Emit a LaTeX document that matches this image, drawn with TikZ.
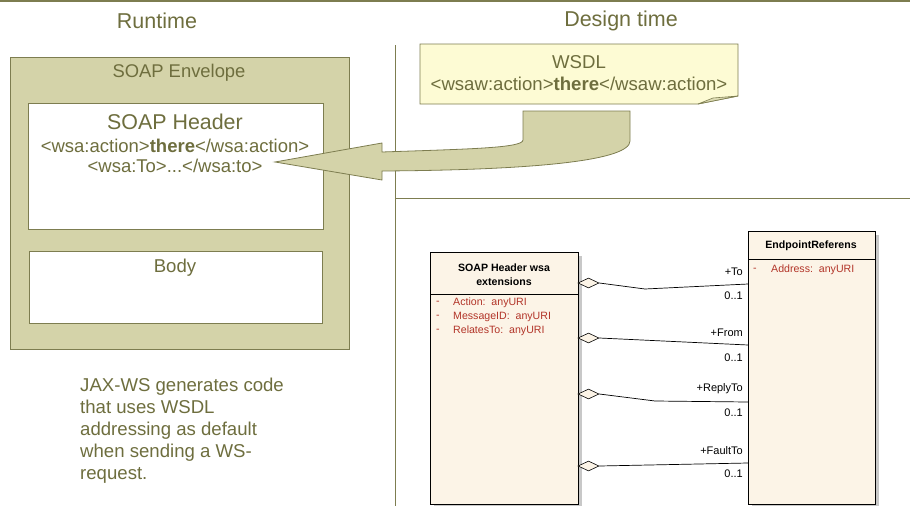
\documentclass[tikz,border=0pt]{standalone}
\usepackage{fontspec}
\setmainfont{Liberation Sans}
\usetikzlibrary{shapes.geometric}
\definecolor{oliveT}{RGB}{110,110,62}
\definecolor{oliveL}{RGB}{125,125,80}
\definecolor{envfill}{RGB}{212,211,169}
\definecolor{notefill}{RGB}{253,251,212}
\definecolor{foldfill}{RGB}{222,220,180}
\definecolor{umlfill}{RGB}{252,244,231}
\definecolor{attrred}{RGB}{178,52,40}
\definecolor{shadowg}{RGB}{200,200,200}
\newcommand{\fsz}[2]{\fontsize{#1}{#2}\selectfont}
\tikzset{
  ttl/.style={text=oliveT, font=\fsz{21.5}{24}},
  box/.style={draw=oliveL, line width=0.8, anchor=north west, inner sep=0},
  txt/.style={text=oliveT, inner sep=0},
  umlbox/.style={draw=black, line width=0.7, fill=umlfill, anchor=north west, inner sep=0},
  umltitle/.style={font=\bfseries\fsz{10.6}{14}, align=center, inner sep=0},
  attr/.style={text=attrred, font=\fsz{10.6}{12}, anchor=west, inner sep=0},
  role/.style={font=\fsz{11}{12}, anchor=east, inner sep=0},
  agg/.style={draw=black, line width=0.6, fill=umlfill, shape=diamond, aspect=2, minimum width=21, minimum height=10, inner sep=0},
  conn/.style={draw=black, line width=0.7},
}
\begin{document}
\begin{tikzpicture}[x=1pt,y=-1pt]
\useasboundingbox (0,0) rectangle (910,506);
\draw[oliveL, line width=1.2] (0,1) -- (910,1);
\node[ttl] (rt) at (157,21) {Runtime};
\node[ttl] (dt) at (621,21) {Design time};
\draw[oliveL, line width=0.8] (395,45) -- (395,506);
\draw[oliveL, line width=0.8] (395,198) -- (910,198);

% SOAP envelope
\node[box, fill=envfill, minimum width=339, minimum height=292] (env) at (10,57) {};
\node[txt, font=\fsz{18.4}{20}] (envt) at (179,73) {SOAP Envelope};
\node[box, fill=white, minimum width=295, minimum height=126] (hdr) at (28,103) {};
\node[txt, font=\fsz{21.4}{24}] (hdrt) at (175,122) {SOAP Header};
\node[txt, font=\fsz{18.5}{20}] (hdr1) at (175,146) {<wsa:action>\textbf{there}</wsa:action>};
\node[txt, font=\fsz{18.5}{20}] (hdr2) at (175,166) {<wsa:To>...</wsa:to>};
\node[box, fill=white, minimum width=293, minimum height=72] (body) at (29,251) {};
\node[txt, font=\fsz{18.6}{20}] (bodyt) at (175,268) {Body};

\node[txt, font=\fsz{18.6}{22}, align=left, anchor=north west] (jax) at (80,378)
  {JAX-WS generates code\\that uses WSDL\\addressing as default\\when sending a WS-\\request.};

% WSDL note
\path[draw=oliveL, line width=0.8, fill=notefill] (420,44) -- (738,44) -- (738,96) -- (698,104) -- (420,104) -- cycle;
\path[draw=oliveL, line width=0.6, fill=foldfill] (698,104) -- (713,98) -- (738,96) -- cycle;
\node[txt, font=\fsz{18.6}{22}, align=center] (wsdl) at (579,73) {WSDL\\<wsaw:action>\textbf{there}</wsaw:action>};

% big arrow
\path[draw=oliveL, line width=0.8, fill=envfill]
  (275,162) -- (382,143) -- (382,152)
  .. controls (470,149) and (523,148) .. (523,140)
  -- (523,111) -- (630,111) -- (630,141)
  .. controls (630,160) and (540,170) .. (382,171)
  -- (382,180) -- cycle;

% UML classes
\fill[shadowg] (434,256) rectangle (582,506);
\node[umlbox, minimum width=148, minimum height=252] (cls1) at (430,252) {};
\draw[black, line width=0.7] (430,294) -- (578,294);
\node[umltitle] (cls1t) at (504,275) {SOAP Header wsa\\extensions};
\node[attr] (a1d) at (436,303) {-};
\node[attr] (a1) at (453,303) {Action:\ \ anyURI};
\node[attr] (a2d) at (436,317) {-};
\node[attr] (a2) at (453,317) {MessageID:\ \ anyURI};
\node[attr] (a3d) at (436,331) {-};
\node[attr] (a3) at (453,331) {RelatesTo:\ \ anyURI};

\fill[shadowg] (752,235) rectangle (879,506);
\node[umlbox, minimum width=127, minimum height=273] (cls2) at (748,231) {};
\draw[black, line width=0.7] (748,259) -- (875,259);
\node[umltitle] (cls2t) at (811,246) {EndpointReferens};
\node[attr] (b1d) at (753,270) {-};
\node[attr] (b1) at (771,270) {Address:\ \ anyURI};

% associations
\node[agg] (d1) at (588.5,283) {};
\node[agg] (d2) at (588.5,338) {};
\node[agg] (d3) at (588.5,394) {};
\node[agg] (d4) at (588.5,466) {};
\coordinate (e1) at (748,284);
\coordinate (e2) at (748,345);
\coordinate (e3) at (748,402);
\coordinate (e4) at (748,463);
\draw[conn] (d1.east) -- (645,289) -- (e1);
\draw[conn] (d2.east) -- (e2);
\draw[conn] (d3.east) -- (655,401) -- (e3);
\draw[conn] (d4.east) -- (e4);

\node[role] (r1) at (743,272) {+To};
\node[role] (m1) at (743,296) {0..1};
\node[role] (r2) at (743,333) {+From};
\node[role] (m2) at (743,358) {0..1};
\node[role] (r3) at (743,389) {+ReplyTo};
\node[role] (m3) at (743,413) {0..1};
\node[role] (r4) at (743,451) {+FaultTo};
\node[role] (m4) at (743,474) {0..1};
\end{tikzpicture}
\end{document}
